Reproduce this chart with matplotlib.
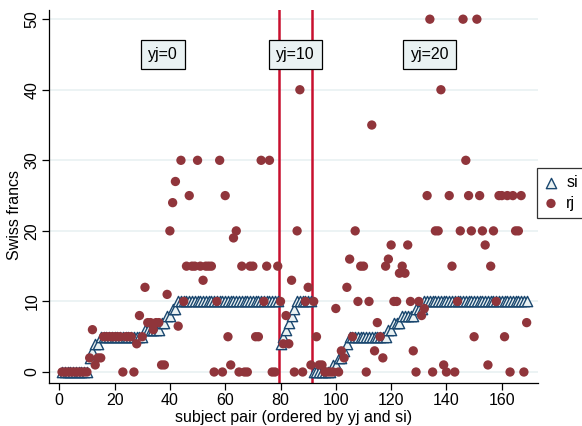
import matplotlib
matplotlib.use("Agg")
import matplotlib.pyplot as plt
import numpy as np

plt.rcParams['font.family'] = ['Liberation Sans', 'DejaVu Sans']

# subject pairs 1..169 (ordered by yj and si)
si_yj0 = [0]*10 + [2, 3, 4, 4] + [5]*16 + [6]*6 + [7, 7, 8, 8, 9, 9] + [10]*37
si_yj10 = [4, 5, 6, 7, 8, 9, 10, 10, 10, 10, 10, 10]
si_yj20 = [0]*7 + [1, 1, 2, 2, 3, 4] + [5]*14 + [6, 6, 7, 7, 7, 8, 8, 8, 8, 8, 9, 9, 9] + [10]*38

rj_yj0 = [0, 0, 0, 0, 0, 0, 0, 0, 0, 0,
          2, 6, 1, 2, 2, 5, 5, 5, 5, 5,
          5, 5, 0, 5, 5, 5, 0, 4, 8, 5,
          12, 7, 7, 6, 7, 7, 1, 1, 11, 20,
          24, 27, 6.5, 30, 10, 15, 25, 15, 15, 30,
          15, 13, 15, 15, 15, 0, 10, 30, 0, 25,
          5, 1, 19, 20, 0, 15, 0, 0, 15, 15,
          5, 5, 30, 10, 15, 30, 0, 0, 15]
rj_yj10 = [10, 4, 8, 4, 13, 0, 20, 40, 0, 10, 12, 1]
rj_yj20 = [10, 5, 1, 1, 0, 0, 0, 0, 9, 0,
           3, 2, 12, 16, 5, 20, 10, 15, 15, 0,
           10, 35, 3, 7, 5, 2, 15, 16, 18, 10,
           10, 14, 15, 14, 18, 10, 3, 0, 10, 8,
           9, 25, 50, 0, 20, 20, 40, 1, 0, 25,
           15, 0, 10, 20, 50, 30, 25, 20, 5, 50,
           25, 20, 18, 1, 15, 20, 10, 25, 25, 5,
           25, 0, 25, 20, 20, 25, 0, 7]

si = si_yj0 + si_yj10 + si_yj20
rj = rj_yj0 + rj_yj10 + rj_yj20
pair = np.arange(1, len(si) + 1)

group_bounds = [len(si_yj0) + 0.5, len(si_yj0) + len(si_yj10) + 0.5]
group_labels = ["yj=0", "yj=10", "yj=20"]
label_x = [37.5, 85.3, 134]
label_y = 45

navy = "#1a476f"
maroon = "#90353b"
crimson = "#c8102e"
grid_c = "#eaf2f3"
fs = 11.5

fig = plt.figure(figsize=(5.82, 4.26), dpi=100)
ax = fig.add_axes([0.0847, 0.1009, 0.8397, 0.8756])

for yv in [0, 10, 20, 30, 40, 50]:
    ax.axhline(yv, color=grid_c, lw=1.3, zorder=0)

for xb in group_bounds:
    ax.axvline(xb, color=crimson, lw=1.8, zorder=1)

ax.scatter(pair, si, marker='^', s=55, facecolor=grid_c, edgecolor=navy,
           linewidth=1.0, zorder=2, label='si')
ax.scatter(pair, rj, marker='o', s=45, facecolor=maroon, edgecolor='none',
           zorder=3, label='rj')

for lx, lt in zip(label_x, group_labels):
    ax.text(lx, label_y, lt, ha='center', va='center', fontsize=fs,
            bbox=dict(boxstyle='square,pad=0.45', fc=grid_c, ec='black', lw=0.9),
            zorder=5)

ax.set_xlim(-3.6, 173.1)
ax.set_ylim(-1.56, 51.3)
ax.set_xticks([0, 20, 40, 60, 80, 100, 120, 140, 160])
ax.set_yticks([0, 10, 20, 30, 40, 50])
ax.tick_params(axis='both', labelsize=fs, length=5, width=0.9, direction='out', pad=2)
for lbl in ax.get_yticklabels():
    lbl.set_rotation(90)
    lbl.set_va('center')
ax.spines['top'].set_visible(False)
ax.spines['right'].set_visible(False)
ax.spines['left'].set_linewidth(0.9)
ax.spines['bottom'].set_linewidth(0.9)

ax.set_xlabel("subject pair (ordered by yj and si)", fontsize=fs)
ax.set_ylabel("Swiss francs", fontsize=fs)
ax.xaxis.set_label_coords(0.5, -0.072)
ax.yaxis.set_label_coords(-0.056, 0.45)

leg = fig.legend(loc='upper left', bbox_to_anchor=(0.922, 0.606), fontsize=fs,
                 frameon=True, fancybox=False, edgecolor='black',
                 facecolor='white', handletextpad=0.5, borderpad=0.45,
                 handlelength=0.9, labelspacing=0.35, borderaxespad=0)
leg.get_frame().set_linewidth(0.9)

fig.savefig("out.png", dpi=100)
